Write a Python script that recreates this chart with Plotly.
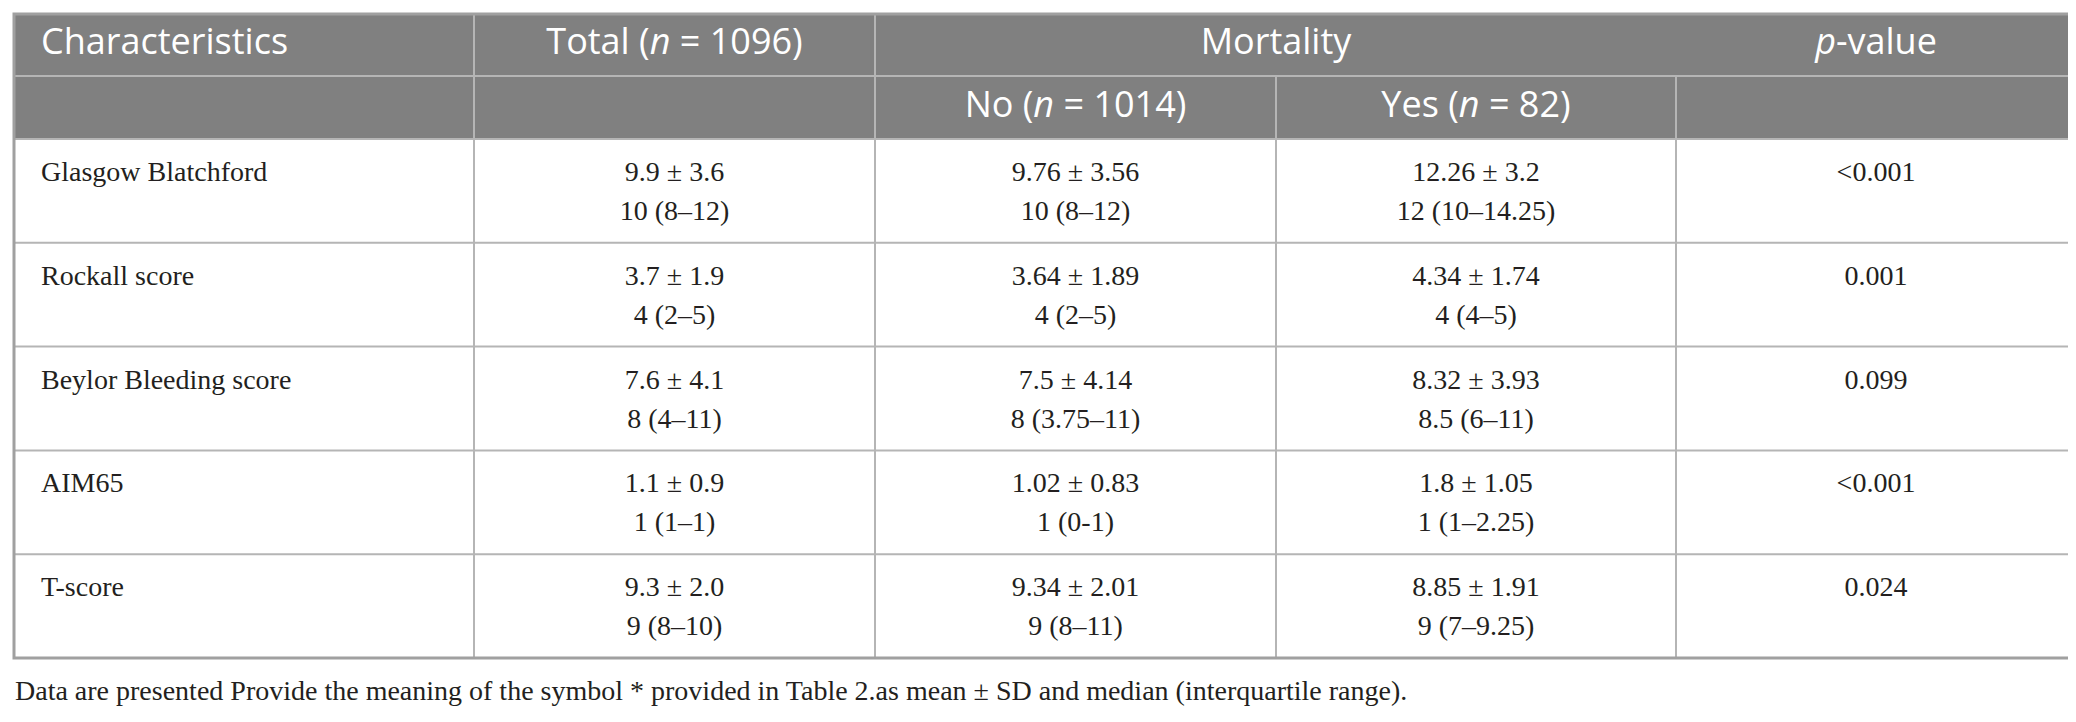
import plotly.graph_objects as go

# table content
characteristics = ["Glasgow Blatchford", "Rockall score", "Beylor Bleeding score", "AIM65", "T-score"]
total_mean_sd = ["9.9 ± 3.6", "3.7 ± 1.9", "7.6 ± 4.1", "1.1 ± 0.9", "9.3 ± 2.0"]
total_median_iqr = ["10 (8–12)", "4 (2–5)", "8 (4–11)", "1 (1–1)", "9 (8–10)"]
no_mean_sd = ["9.76 ± 3.56", "3.64 ± 1.89", "7.5 ± 4.14", "1.02 ± 0.83", "9.34 ± 2.01"]
no_median_iqr = ["10 (8–12)", "4 (2–5)", "8 (3.75–11)", "1 (0-1)", "9 (8–11)"]
yes_mean_sd = ["12.26 ± 3.2", "4.34 ± 1.74", "8.32 ± 3.93", "1.8 ± 1.05", "8.85 ± 1.91"]
yes_median_iqr = ["12 (10–14.25)", "4 (4–5)", "8.5 (6–11)", "1 (1–2.25)", "9 (7–9.25)"]
p_values = ["<0.001", "0.001", "0.099", "<0.001", "0.024"]

header_top = ["Characteristics", "Total (<i>n</i> = 1096)", "Mortality", "<i>p</i>-value"]
header_sub = ["No (<i>n</i> = 1014)", "Yes (<i>n</i> = 82)"]
footnote = ("Data are presented Provide the meaning of the symbol * provided in Table 2.as "
            "mean ± SD and median (interquartile range).")

# layout in pixels
W, H = 2076, 722
col_edges = [6, 466, 867, 1268, 1668, 2068]
head_edges = [6, 68, 131]
body_bottom = 650
n_rows = len(characteristics)
row_h = (body_bottom - head_edges[2]) / n_rows
row_tops = [head_edges[2] + i * row_h for i in range(n_rows)]
col_mid = [(col_edges[i] + col_edges[i + 1]) / 2 for i in range(5)]

HEAD_FONT = dict(family="Open Sans", size=36, color="white")
BODY_FONT = dict(family="Liberation Serif", size=28, color="#231f20")
LINE_IN = dict(color="#b5b5b5", width=2)
LINE_OUT = dict(color="#a0a0a0", width=3)


def esc(s):
    return s.replace("<", "&lt;")


fig = go.Figure()

# header background
fig.add_shape(type="rect", x0=col_edges[0], x1=col_edges[-1], y0=head_edges[0], y1=head_edges[2],
              fillcolor="#808080", line=dict(width=0), layer="below")

# horizontal rules
fig.add_shape(type="line", x0=col_edges[0], x1=col_edges[-1], y0=head_edges[1], y1=head_edges[1], line=LINE_IN)
for y in row_tops:
    fig.add_shape(type="line", x0=col_edges[0], x1=col_edges[-1], y0=y, y1=y, line=LINE_IN)

# vertical rules
for x in col_edges[1:3]:
    fig.add_shape(type="line", x0=x, x1=x, y0=head_edges[0], y1=body_bottom, line=LINE_IN)
for x in col_edges[3:5]:
    fig.add_shape(type="line", x0=x, x1=x, y0=head_edges[1], y1=body_bottom, line=LINE_IN)

# outer border
fig.add_shape(type="rect", x0=col_edges[0], x1=col_edges[-1], y0=head_edges[0], y1=body_bottom,
              line=LINE_OUT, fillcolor="rgba(0,0,0,0)")
fig.add_shape(type="line", x0=col_edges[0], x1=col_edges[-1], y0=716, y1=716,
              line=dict(color="#c8c8c8", width=2))

# header texts
mid1 = (head_edges[0] + head_edges[1]) / 2
mid2 = (head_edges[1] + head_edges[2]) / 2
fig.add_trace(go.Scatter(x=[col_edges[0] + 27], y=[mid1], mode="text", text=[header_top[0]],
                         textposition="middle right", textfont=HEAD_FONT, hoverinfo="skip"))
fig.add_trace(go.Scatter(x=[col_mid[1], col_edges[3], col_mid[4]], y=[mid1] * 3, mode="text",
                         text=header_top[1:], textposition="middle center", textfont=HEAD_FONT,
                         hoverinfo="skip"))
fig.add_trace(go.Scatter(x=[col_mid[2], col_mid[3]], y=[mid2] * 2, mode="text",
                         text=header_sub, textposition="middle center", textfont=HEAD_FONT,
                         hoverinfo="skip"))

# body texts
line1 = [t + 35 for t in row_tops]
line2 = [t + 74 for t in row_tops]
fig.add_trace(go.Scatter(x=[col_edges[0] + 27] * n_rows, y=line1, mode="text", text=characteristics,
                         textposition="middle right", textfont=BODY_FONT, hoverinfo="skip"))
for ci, (first, second) in enumerate([(total_mean_sd, total_median_iqr),
                                      (no_mean_sd, no_median_iqr),
                                      (yes_mean_sd, yes_median_iqr)], start=1):
    fig.add_trace(go.Scatter(x=[col_mid[ci]] * n_rows, y=line1, mode="text", text=first,
                             textposition="middle center", textfont=BODY_FONT, hoverinfo="skip"))
    fig.add_trace(go.Scatter(x=[col_mid[ci]] * n_rows, y=line2, mode="text", text=second,
                             textposition="middle center", textfont=BODY_FONT, hoverinfo="skip"))
fig.add_trace(go.Scatter(x=[col_mid[4]] * n_rows, y=line1, mode="text", text=[esc(p) for p in p_values],
                         textposition="middle center", textfont=BODY_FONT, hoverinfo="skip"))

# footnote
fig.add_trace(go.Scatter(x=[col_edges[0] + 1], y=[685], mode="text", text=[footnote],
                         textposition="middle right", textfont=BODY_FONT, hoverinfo="skip"))

fig.update_layout(
    width=W, height=H,
    margin=dict(l=0, r=0, t=0, b=0),
    paper_bgcolor="white", plot_bgcolor="white",
    showlegend=False,
    xaxis=dict(range=[0, W], visible=False, fixedrange=True),
    yaxis=dict(range=[H, 0], visible=False, fixedrange=True),
)

fig.write_html("out.html")
